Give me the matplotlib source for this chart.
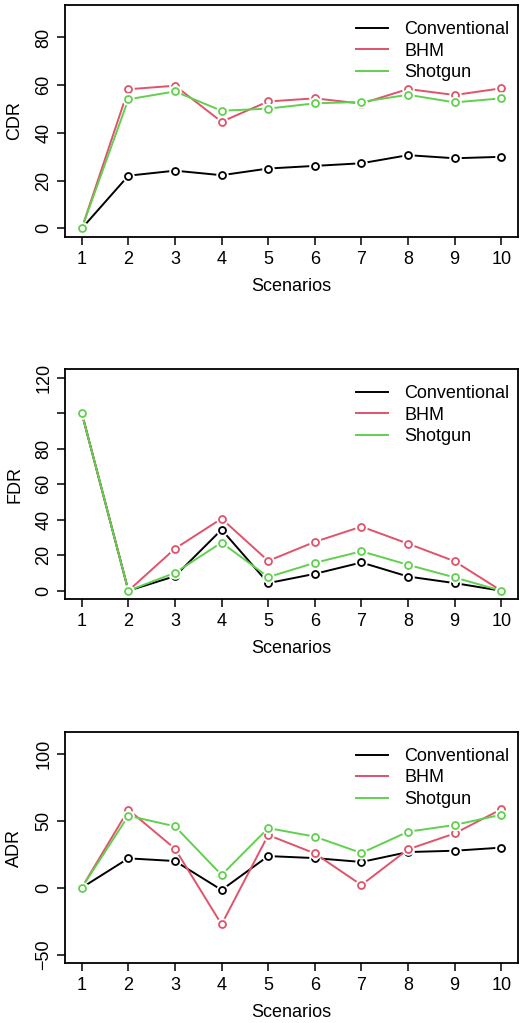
import numpy as np
import matplotlib
matplotlib.use('Agg')
import matplotlib.pyplot as plt

plt.rcParams['font.family'] = ['Liberation Sans', 'DejaVu Sans']
plt.rcParams['font.size'] = 13

scenarios = np.arange(1, 11)
methods = ['Conventional', 'BHM', 'Shotgun']
colors = ['black', '#DF536B', '#61D04F']

# CDR
cdr_conv = [0, 22.1, 24.2, 22.3, 25.1, 26.2, 27.3, 30.7, 29.4, 30.0]
cdr_bhm = [0, 58.3, 59.8, 44.7, 53.2, 54.5, 52.3, 58.4, 55.9, 58.7]
cdr_shot = [0, 54.1, 57.4, 49.3, 50.2, 52.4, 53.0, 56.0, 52.8, 54.5]

# FDR
fdr_conv = [100, 0, 8.2, 34.4, 4.3, 9.5, 15.9, 8.0, 4.3, 0]
fdr_bhm = [100, 0, 23.7, 40.6, 16.8, 27.5, 36.1, 26.5, 16.6, 0]
fdr_shot = [100, 0, 10.1, 27.1, 7.7, 15.7, 22.2, 14.6, 7.5, 0]

# ADR
adr_conv = [0, 21.9, 19.9, -1.7, 23.6, 22.1, 19.2, 26.6, 27.6, 29.9]
adr_bhm = [0, 58.2, 29.1, -27.4, 39.3, 25.6, 2.0, 28.6, 40.5, 58.5]
adr_shot = [0, 53.7, 45.8, 9.5, 44.5, 38.1, 25.9, 41.8, 46.8, 54.5]

panels = [
    ('CDR', [cdr_conv, cdr_bhm, cdr_shot], (0, 90), [0, 20, 40, 60, 80], ['0', '20', '40', '60', '80']),
    ('FDR', [fdr_conv, fdr_bhm, fdr_shot], (0, 120), [0, 20, 40, 60, 80, 100, 120],
     ['0', '20', '40', '60', '80', '', '120']),
    ('ADR', [adr_conv, adr_bhm, adr_shot], (-50, 110), [-50, 0, 50, 100], ['\u221250', '0', '50', '100']),
]

# axes boxes in figure fractions (left, bottom, width, height)
boxes = [
    [0.1238, 0.7683, 0.8629, 0.2268],
    [0.1238, 0.4142, 0.8629, 0.2251],
    [0.1238, 0.0584, 0.8629, 0.2263],
]

fig = plt.figure(figsize=(5.25, 10.23), dpi=100)

for (name, series, ylim, yt, ytl), box in zip(panels, boxes):
    ax = fig.add_axes(box)
    for vals, c, lab in zip(series, colors, methods):
        ax.plot(scenarios, vals, color=c, lw=1.4, label=lab, zorder=2)
        ax.plot(scenarios, vals, 'o', ms=9, mfc='white', mec='none', zorder=2)
        ax.plot(scenarios, vals, 'o', ms=5, mfc='none', mec=c, mew=1.3, zorder=2)
    pad_y = (ylim[1] - ylim[0]) * 0.04
    ax.set_ylim(ylim[0] - pad_y, ylim[1] + pad_y)
    ax.set_xlim(1 - 0.36, 10 + 0.36)
    ax.set_xticks(scenarios)
    ax.set_yticks(yt)
    ax.set_yticklabels(ytl, rotation=90, va='center')
    ax.tick_params(length=6, width=1.1, pad=4, labelsize=13)
    ax.tick_params(axis='y', pad=3)
    for s in ax.spines.values():
        s.set_linewidth(1.3)
    ax.set_xlabel('Scenarios', fontsize=13)
    ax.set_ylabel(name, fontsize=13)
    ax.xaxis.set_label_coords(0.5, -0.177)
    ax.yaxis.set_label_coords(-0.092, 0.5)
    ax.legend(loc='upper right', frameon=False, fontsize=13, handlelength=1.8,
              handletextpad=0.9, labelspacing=0.25, borderaxespad=0.3,
              bbox_to_anchor=(1.009, 0.985))

fig.savefig('out.png', dpi=100)
